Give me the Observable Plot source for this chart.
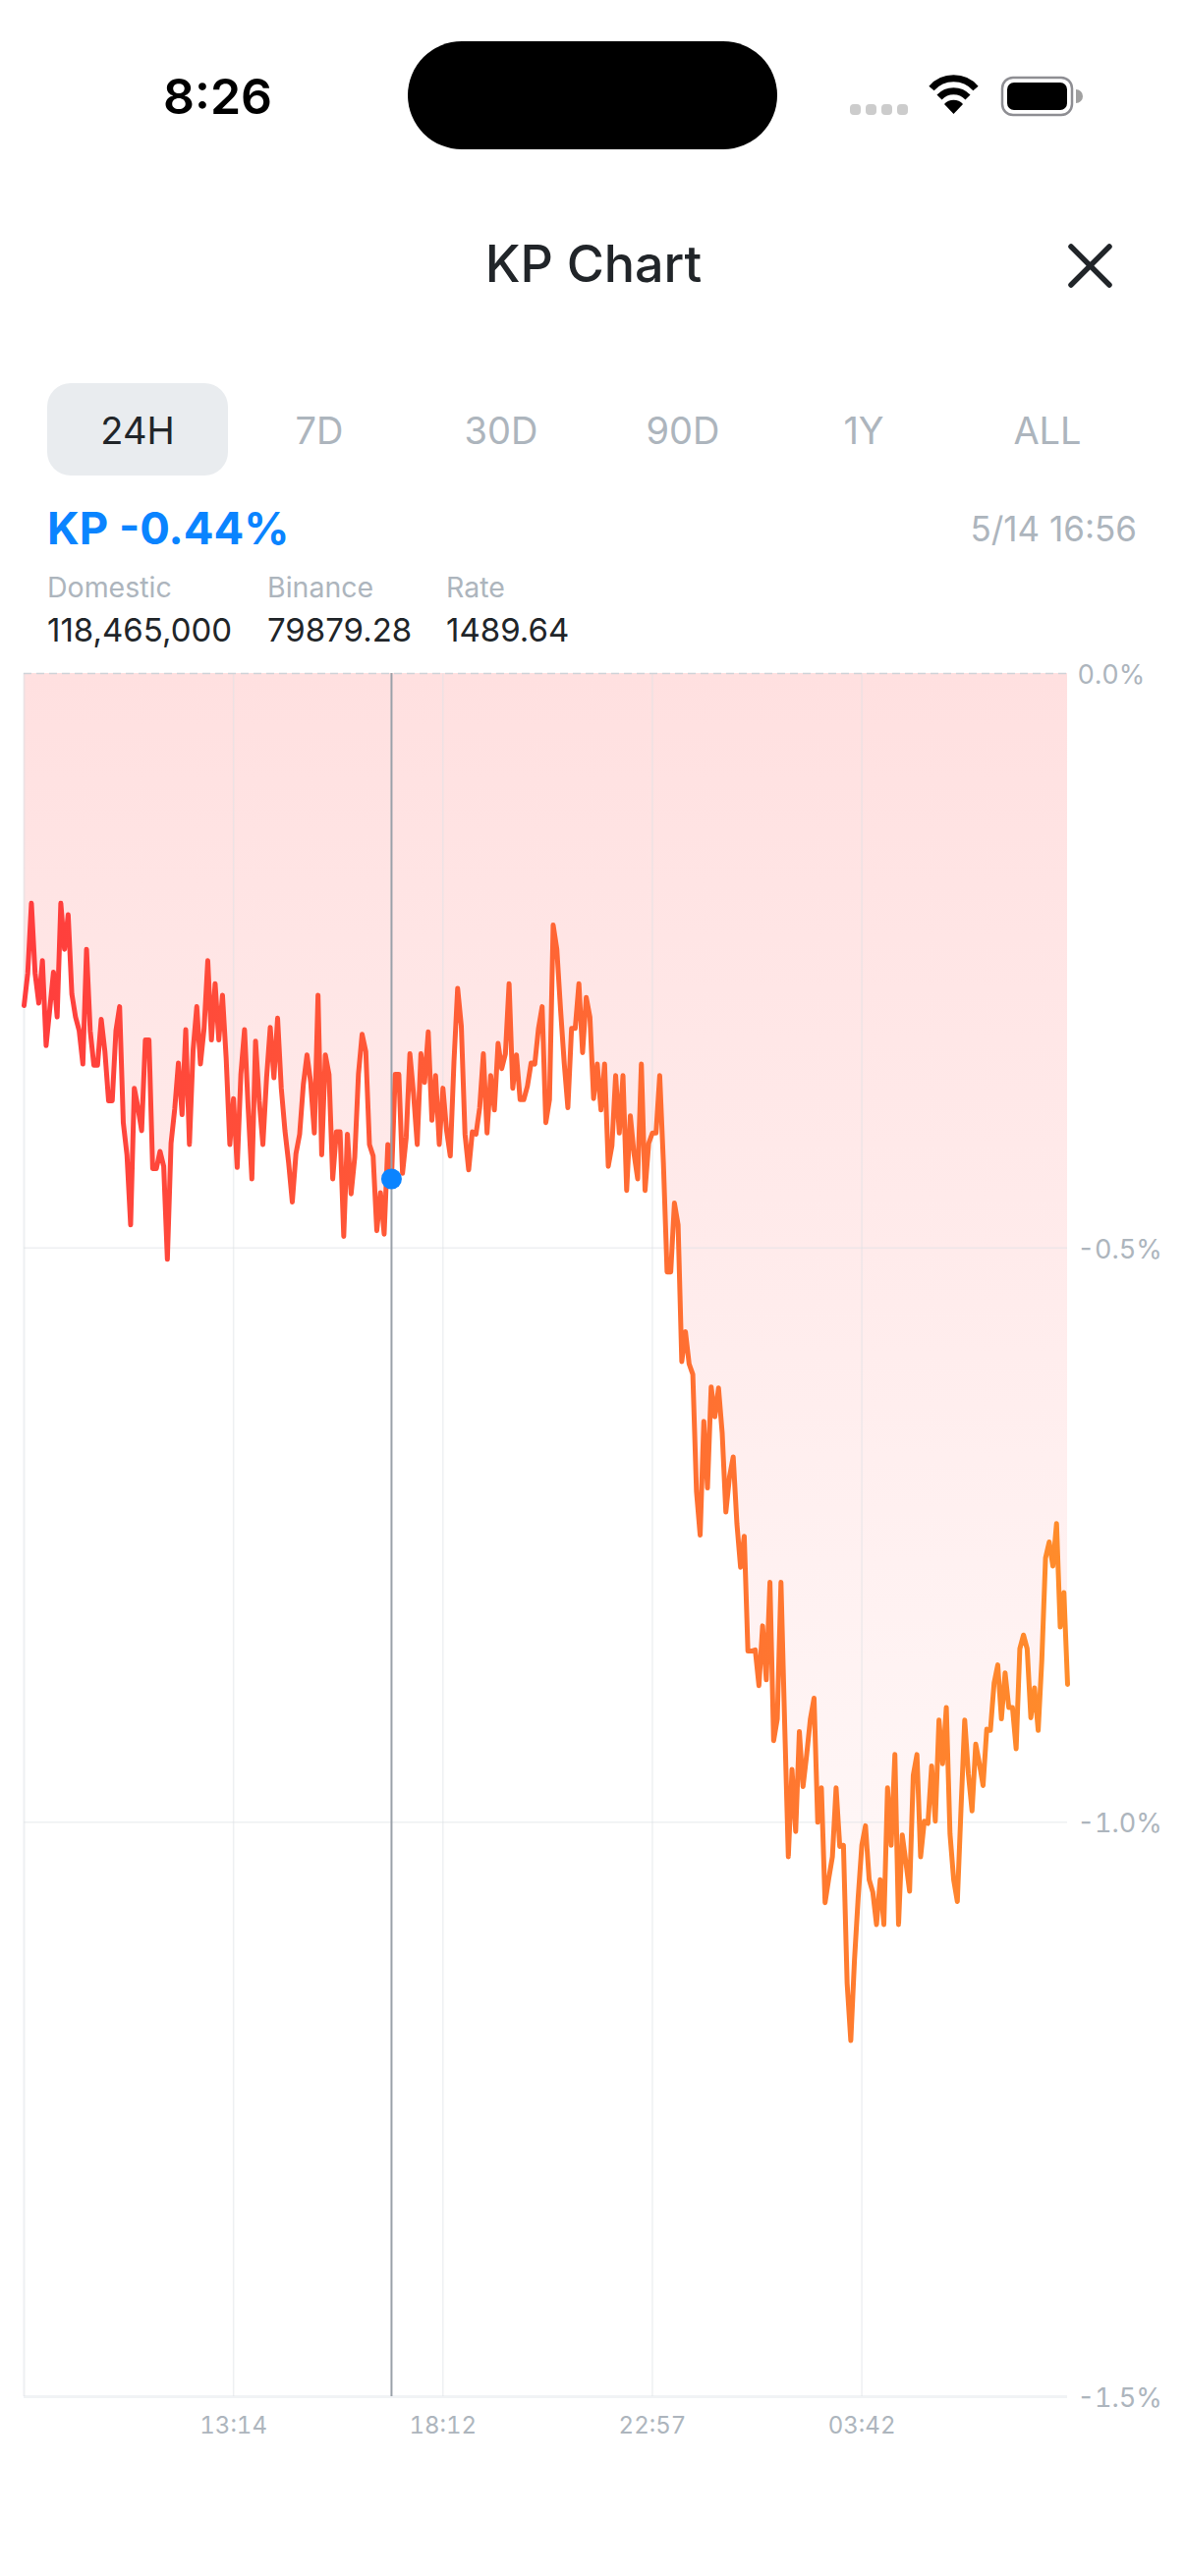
<!DOCTYPE html>
<html>
<head>
<meta charset="utf-8">
<script src="https://cdn.jsdelivr.net/npm/d3@7"></script>
<script src="https://cdn.jsdelivr.net/npm/@observablehq/plot@0.6"></script>
<style>
html,body{margin:0;padding:0;background:#fff;}
#page{position:relative;width:1206px;height:2622px;overflow:hidden;font-family:Inter,sans-serif;color:#212529;}
.t{position:absolute;white-space:nowrap;line-height:1;transform:translateY(-50%);}
.c{transform:translate(-50%,-50%);}
#chart{position:absolute;left:0;top:660px;}
#chart svg{display:block;}
</style>
</head>
<body>
<div id="page">
<div class="t" style="left:166px;top:98px;font-size:50px;font-weight:600;color:#000">8:26</div>
<div style="position:absolute;left:415px;top:42px;width:376px;height:110px;border-radius:55px;background:#000"></div>
<svg style="position:absolute;left:860px;top:70px" width="250" height="56" viewBox="860 70 250 56">
  <g fill="#cccccc"><rect x="865" y="106" width="11" height="11" rx="4"/><rect x="881" y="106" width="11" height="11" rx="4"/><rect x="897" y="106" width="11" height="11" rx="4"/><rect x="913" y="106" width="11" height="11" rx="4"/></g>
  <g fill="none" stroke="#000" stroke-width="7"><path d="M948 90 A30 30 0 0 1 993 90"/><path d="M956 99 A20 20 0 0 1 985 99"/></g>
  <path d="M970.500 116 L961 106 A13 13 0 0 1 980 106 Z" fill="#000"/>
  <rect x="1020" y="79" width="71" height="38" rx="11" fill="none" stroke="#8e8e93" stroke-width="2.500"/>
  <rect x="1025" y="84" width="61" height="28" rx="7" fill="#000"/>
  <path d="M1095 91 A7 7 0 0 1 1095 105 Z" fill="#a0a0a0"/>
</svg>
<div class="t c" style="left:604px;top:269px;font-size:52px;font-weight:500">KP Chart</div>
<svg style="position:absolute;left:1080px;top:240px" width="60" height="60" viewBox="0 0 60 60"><path d="M10 11 L49 50 M49 11 L10 50" stroke="#212529" stroke-width="5.500" stroke-linecap="round"/></svg>
<div style="position:absolute;left:48px;top:390px;width:184px;height:94px;border-radius:24px;background:#e9ecef"></div>
<div id="tabs"></div>
<div class="t" style="left:48px;top:538px;font-size:45.500px;font-weight:700;color:#0a84ff">KP -0.44%</div>
<div class="t" style="right:49px;top:538px;font-size:35px;color:#adb5bd">5/14 16:56</div>
<div id="metrics"></div>
<div id="chart"></div>
</div>
<script>
const tabLabels = ["24H","7D","30D","90D","1Y","ALL"];
const metricNames = ["Domestic","Binance","Rate"];
const metricValues = ["118,465,000","79879.28","1489.64"];
const xTickIndex = [57,114,171,228];
const xTickLabels = ["13:14","18:12","22:57","03:42"];
const yTicks = [0,-0.5,-1.0,-1.5];
const cursorIndex = 100;
const cursorValue = -0.44;

const kpChange = [
-.289,-.261,-.200,-.261,-.287,-.250,-.324,-.292,-.260,-.299,-.200,-.240,-.210,-.279,-.299,-.311,-.340,-.240,-.311,-.341,
-.341,-.301,-.329,-.372,-.372,-.311,-.290,-.391,-.419,-.480,-.361,-.378,-.398,-.319,-.319,-.431,-.431,-.416,-.429,-.510,
-.409,-.379,-.339,-.384,-.310,-.410,-.328,-.290,-.340,-.309,-.250,-.319,-.270,-.319,-.280,-.335,-.410,-.370,-.430,-.349,
-.310,-.379,-.440,-.320,-.372,-.410,-.352,-.308,-.352,-.300,-.361,-.398,-.426,-.460,-.418,-.401,-.358,-.332,-.356,-.400,
-.280,-.419,-.332,-.349,-.440,-.399,-.399,-.490,-.401,-.453,-.421,-.349,-.314,-.329,-.410,-.420,-.485,-.452,-.488,-.410,
-.440,-.349,-.349,-.435,-.404,-.331,-.366,-.410,-.331,-.356,-.312,-.389,-.350,-.410,-.361,-.398,-.420,-.338,-.274,-.307,
-.401,-.432,-.399,-.401,-.378,-.331,-.400,-.350,-.380,-.322,-.344,-.331,-.270,-.361,-.332,-.371,-.371,-.359,-.339,-.340,
-.309,-.290,-.391,-.371,-.219,-.240,-.292,-.339,-.378,-.309,-.309,-.270,-.330,-.282,-.299,-.370,-.340,-.380,-.340,-.429,
-.411,-.350,-.400,-.350,-.450,-.385,-.418,-.440,-.340,-.450,-.409,-.400,-.400,-.350,-.426,-.521,-.521,-.461,-.480,-.599,
-.573,-.601,-.610,-.712,-.750,-.651,-.709,-.621,-.647,-.622,-.661,-.730,-.699,-.682,-.740,-.778,-.751,-.851,-.851,-.850,
-.881,-.829,-.876,-.791,-.929,-.910,-.791,-.914,-1.030,-.954,-1.008,-.921,-.969,-.941,-.910,-.892,-1.000,-.970,-1.070,-1.049,
-1.030,-.970,-1.021,-1.020,-1.140,-1.190,-1.120,-1.066,-1.020,-1.003,-1.050,-1.061,-1.089,-1.050,-1.089,-.970,-1.020,-.941,-1.089,-1.011,
-1.035,-1.060,-.959,-.941,-1.030,-.999,-1.001,-.951,-.999,-.911,-.949,-.900,-1.010,-1.050,-1.069,-.988,-.911,-.958,-.990,-.932,
-.949,-.968,-.919,-.920,-.879,-.863,-.910,-.870,-.900,-.900,-.936,-.849,-.837,-.849,-.909,-.883,-.920,-.858,-.770,-.756,
-.777,-.740,-.830,-.800,-.880
];

const tabX = [140,325,510,695,879,1066];
document.getElementById("tabs").innerHTML = tabLabels.map((t,i)=>
  `<div class="t c" style="left:${tabX[i]}px;top:438px;font-size:38px;color:${i===0?"#212529":"#adb5bd"}">${t}</div>`).join("");
const metricX = [48,272,454];
document.getElementById("metrics").innerHTML = metricNames.map((t,i)=>
  `<div class="t" style="left:${metricX[i]}px;top:598px;font-size:28.500px;color:#adb5bd">${t}</div>
   <div class="t" style="left:${metricX[i]}px;top:641px;font-size:33px;color:#212529">${metricValues[i]}</div>`).join("");

const series = kpChange.map((v,i)=>({i,v}));
const gridStroke = "#dde1e6";
const defs = () => d3.create("svg:defs").html(`
  <linearGradient id="lineGrad" x1="0" x2="1" y1="0" y2="0">
    <stop offset="0" stop-color="#ff3d3d"/><stop offset="1" stop-color="#ff8c2b"/>
  </linearGradient>
  <linearGradient id="areaGrad" x1="0" x2="0" y1="0" y2="1">
    <stop offset="0" stop-color="#ff3d3d" stop-opacity=".16"/><stop offset="1" stop-color="#ff3d3d" stop-opacity=".025"/>
  </linearGradient>`).node();

const chart = Plot.plot({
  width:1206, height:1879,
  marginTop:25, marginBottom:100, marginLeft:24, marginRight:120,
  style:{background:"transparent",fontFamily:"Inter, sans-serif"},
  x:{domain:[0,284],axis:null},
  y:{domain:[-1.5,0],axis:null},
  marks:[
    defs,
    Plot.areaY(series,{x:"i",y1:0,y2:"v",fill:"url(#areaGrad)"}),
    Plot.gridX(xTickIndex,{stroke:gridStroke,strokeOpacity:.5,strokeWidth:1.5}),
    Plot.gridY([-0.5,-1.0],{stroke:gridStroke,strokeOpacity:.5,strokeWidth:1.5}),
    Plot.ruleX([0],{stroke:gridStroke,strokeOpacity:.5,strokeWidth:2}),
    Plot.ruleY([-1.5],{stroke:gridStroke,strokeOpacity:.4,strokeWidth:3}),
    Plot.ruleY([0],{stroke:"#cfd3d8",strokeWidth:1.5,strokeDasharray:"8,5"}),
    Plot.axisX(xTickIndex,{tickSize:0,tickPadding:20,tickFormat:(d,k)=>xTickLabels[xTickIndex.indexOf(d)],fontSize:24,fill:"#adb5bd",label:null}),
    Plot.axisY(yTicks,{anchor:"right",tickSize:0,tickPadding:10,dy:2,tickFormat:d=>d.toFixed(1)+"%",fontSize:27,fill:"#adb5bd",label:null}),
    Plot.line(series,{x:"i",y:"v",stroke:"url(#lineGrad)",strokeWidth:5,strokeMiterlimit:4}),
    Plot.ruleX([cursorIndex],{stroke:"#9aa1a9",strokeWidth:2}),
    Plot.dot([{i:cursorIndex,v:cursorValue}],{x:"i",y:"v",r:10.5,fill:"#0a84ff",stroke:"none"})
  ]
});
document.getElementById("chart").appendChild(chart);
</script>
</body>
</html>
